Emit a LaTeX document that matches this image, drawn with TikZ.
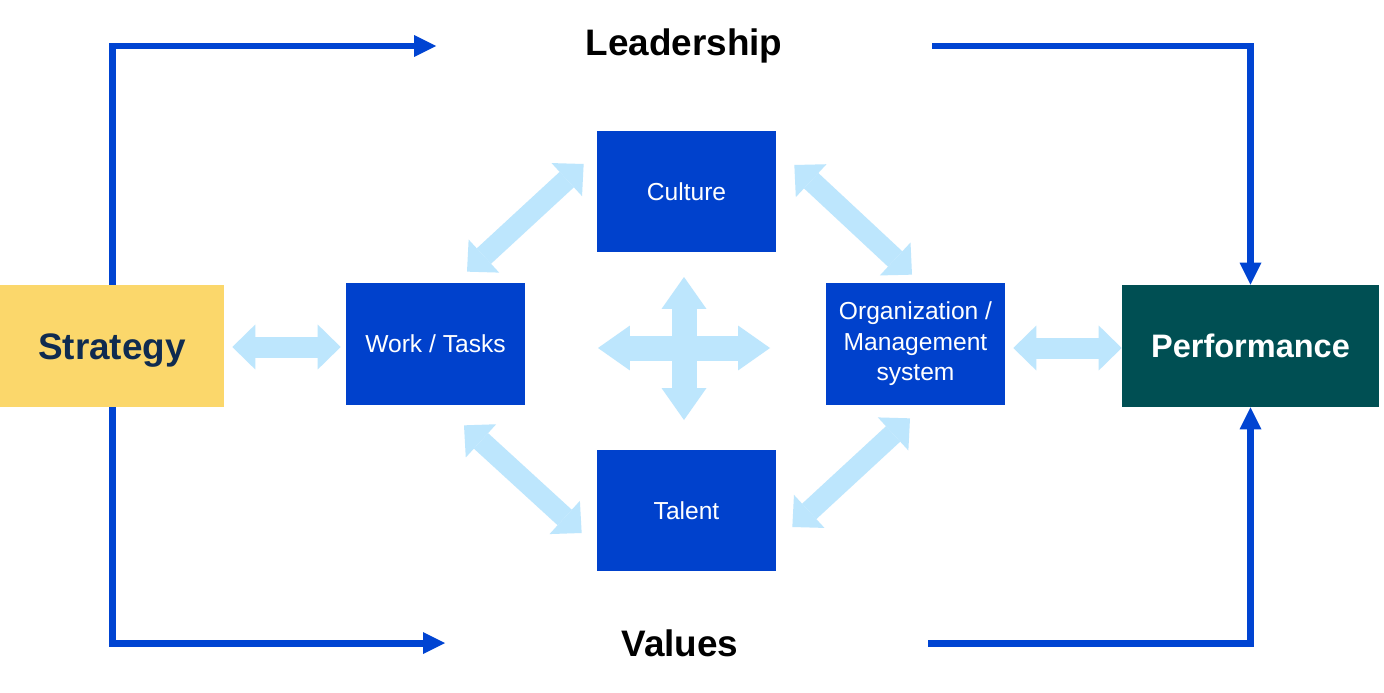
\documentclass[tikz,border=0pt]{standalone}
\usepackage{fontspec}
\setmainfont{Liberation Sans}
\usepackage{xcolor}
\usepackage{tikz}
\usetikzlibrary{arrows.meta,positioning}

\definecolor{boxblue}{HTML}{0041CC}
\definecolor{lineblue}{HTML}{0044D2}
\definecolor{paleblue}{HTML}{BDE6FD}
\definecolor{sunyellow}{HTML}{FBD76B}
\definecolor{deepteal}{HTML}{004F53}
\definecolor{navytext}{HTML}{0F2B50}

\begin{document}
\begin{tikzpicture}[
  x=0.02cm, y=-0.02cm,
  block/.style={fill=boxblue,text=white,minimum width=3.58cm,minimum height=2.44cm,align=center,inner sep=0pt,font=\fontsize{14}{17.4}\selectfont},
  heading/.style={inner sep=0pt,font=\fontsize{21}{25}\selectfont\bfseries},
  flow/.style={draw=lineblue,line width=0.14cm,-{Triangle[length=0.44cm,width=0.44cm,line width=0pt]}},
  fat/.style={draw=paleblue,line width=0.42cm,{Triangle[length=0.46cm,width=0.9cm,line width=0pt]}-{Triangle[length=0.46cm,width=0.9cm,line width=0pt]}},
  hubarrow/.style={draw=paleblue,line width=0.5cm,{Triangle[length=0.64cm,width=0.9cm,line width=0pt]}-{Triangle[length=0.64cm,width=0.9cm,line width=0pt]}}
]
\fill[white] (0,0) rectangle (1384,693);

\node[fill=sunyellow,text=navytext,minimum width=4.48cm,minimum height=2.44cm,inner sep=0pt,text height=15pt,text depth=0pt,font=\fontsize{21}{25}\selectfont\bfseries] (strategy) at (112,346) {Strategy};
\node[fill=deepteal,text=white,minimum width=5.14cm,minimum height=2.44cm,inner sep=0pt,text height=13.2pt,text depth=0pt,font=\fontsize{18.5}{22}\selectfont\bfseries] (performance) at (1250.5,346) {Performance};
\node[block] (work) at (435.5,344) {Work / Tasks};
\node[block] (culture) at (686.5,191.5) {Culture};
\node[block] (talent) at (686.5,510.5) {Talent};
\node[block] (org) at (915.5,344) {Organization /\\Management\\system};
\node[heading] (leadership) at (684,46) {Leadership};
\node[heading] (values) at (680,643) {Values};

\coordinate (leadL) at (436,46);
\coordinate (leadR) at (932,46);
\coordinate (valL) at (445,643);
\coordinate (valR) at (928,643);
\coordinate (hub) at (684,348);

\draw[flow] (strategy.north) |- (leadL);
\draw[flow] (leadR) -| (performance.north);
\draw[flow] (strategy.south) |- (valL);
\draw[flow] (valR) -| (performance.south);

\draw[fat] ([shift={(8,1)}]strategy.east) -- ([shift={(-5,3)}]work.west);
\draw[fat] ([shift={(8,4)}]org.east) -- ([shift={(0,2)}]performance.west);
\draw[fat] ([shift={(31.5,-11)}]work.north) -- ([shift={(-13,-27.5)}]culture.west);
\draw[fat] ([shift={(18,-26.5)}]culture.east) -- ([shift={(-3.5,-8)}]org.north);
\draw[fat] ([shift={(28.5,20)}]work.south) -- ([shift={(-15,22.5)}]talent.west);
\draw[fat] ([shift={(-5.5,13)}]org.south) -- ([shift={(16,16.5)}]talent.east);

\draw[hubarrow] ([shift={(-86,0)}]hub) -- ([shift={(86,0)}]hub);
\draw[hubarrow] ([shift={(0,-71)}]hub) -- ([shift={(0,72)}]hub);
\end{tikzpicture}
\end{document}
